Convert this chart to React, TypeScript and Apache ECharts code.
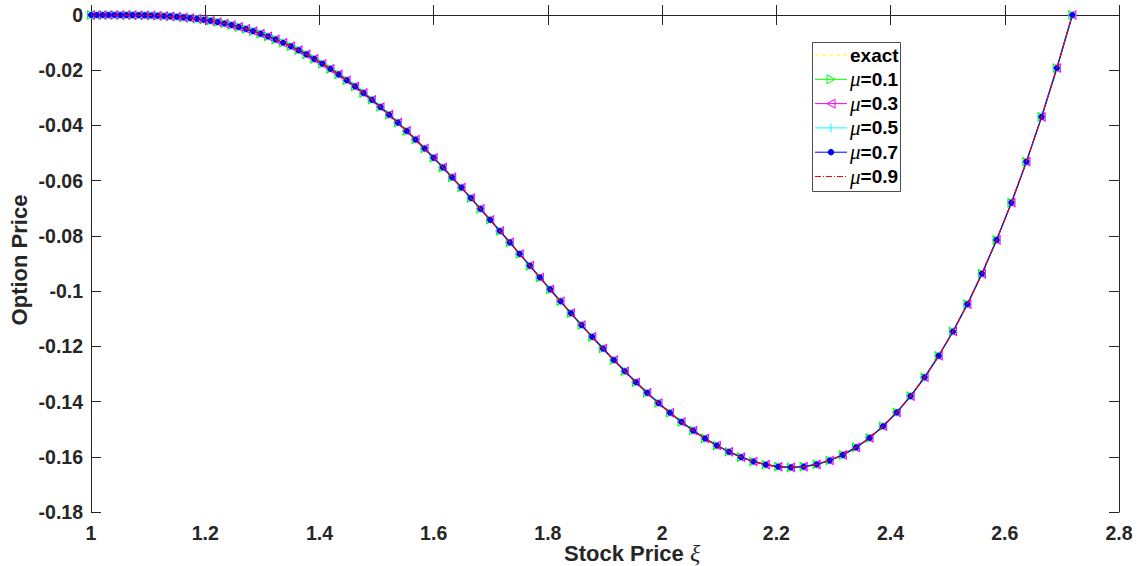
import React, { useEffect, useRef } from "react";
import * as echarts from "echarts";

// Stock price grid (x) and option price (y)
const stockPrice = [
  1.0, 1.0101, 1.0202, 1.0305, 1.0408, 1.0513, 1.0618, 1.0725, 1.0833, 1.0942,
  1.1052, 1.1163, 1.1275, 1.1388, 1.1503, 1.1618, 1.1735, 1.1853, 1.1972, 1.2092,
  1.2214, 1.2337, 1.2461, 1.2586, 1.2712, 1.284, 1.2969, 1.31, 1.3231, 1.3364,
  1.3499, 1.3634, 1.3771, 1.391, 1.4049, 1.4191, 1.4333, 1.4477, 1.4623, 1.477,
  1.4918, 1.5068, 1.522, 1.5373, 1.5527, 1.5683, 1.5841, 1.6, 1.6161, 1.6323,
  1.6487, 1.6653, 1.682, 1.6989, 1.716, 1.7333, 1.7507, 1.7683, 1.786, 1.804,
  1.8221, 1.8404, 1.8589, 1.8776, 1.8965, 1.9155, 1.9348, 1.9542, 1.9739, 1.9937,
  2.0138, 2.034, 2.0544, 2.0751, 2.0959, 2.117, 2.1383, 2.1598, 2.1815, 2.2034,
  2.2255, 2.2479, 2.2705, 2.2933, 2.3164, 2.3396, 2.3632, 2.3869, 2.4109, 2.4351,
  2.4596, 2.4843, 2.5093, 2.5345, 2.56, 2.5857, 2.6117, 2.6379, 2.6645, 2.6912,
  2.7183,
];

const exactPrice = [
  0, 0, -0.0000003, -0.0000016, -0.0000049, -0.0000119, -0.0000244, -0.0000447, -0.0000754, -0.0001194,
  -0.00018, -0.0002606, -0.000365, -0.000497, -0.0006608, -0.0008606, -0.001101, -0.0013864, -0.0017216, -0.0021112,
  -0.00256, -0.0030728, -0.0036544, -0.0043096, -0.005043, -0.0058594, -0.0067632, -0.007759, -0.008851, -0.0100434,
  -0.01134, -0.0127446, -0.0142606, -0.0158913, -0.0176396, -0.0195081, -0.0214991, -0.0236144, -0.0258557, -0.028224,
  -0.03072, -0.033344, -0.0360957, -0.0389743, -0.0419787, -0.0451069, -0.0483565, -0.0517246, -0.0552075, -0.058801,
  -0.0625, -0.066299, -0.0701915, -0.0741705, -0.0782281, -0.0823556, -0.0865436, -0.0907816, -0.0950586, -0.0993624,
  -0.10368, -0.1079976, -0.1122982, -0.1165719, -0.120796, -0.1249544, -0.1290282, -0.1329974, -0.1368408, -0.1405362,
  -0.14406, -0.1473877, -0.1504936, -0.1533505, -0.1559302, -0.1582031, -0.1601384, -0.161704, -0.1628662, -0.1635903,
  -0.16384, -0.1635775, -0.1627638, -0.1613583, -0.1593188, -0.1566019, -0.1531623, -0.1489534, -0.1439269, -0.1380329,
  -0.13122, -0.1234349, -0.1146229, -0.1047273, -0.0936899, -0.0814506, -0.0679477, -0.0531176, -0.0368947, -0.0192119,
  0,
];

// numerical solutions overlap the exact one at this scale
const mu01Price = exactPrice;
const mu03Price = exactPrice;
const mu05Price = exactPrice;
const mu07Price = exactPrice;
const mu09Price = exactPrice;

const seriesNames = ["exact", "μ=0.1", "μ=0.3", "μ=0.5", "μ=0.7", "μ=0.9"];
const xTicks = [1, 1.2, 1.4, 1.6, 1.8, 2, 2.2, 2.4, 2.6, 2.8];
const yTicks = [0, -0.02, -0.04, -0.06, -0.08, -0.1, -0.12, -0.14, -0.16, -0.18];

const AX = "#262626";
const SANS = "Liberation Sans";

export default function App() {
  const ref = useRef<HTMLDivElement>(null);

  useEffect(() => {
    document.body.style.margin = "0";
    if (!ref.current) return;
    const chart = echarts.init(ref.current, null, { renderer: "svg" });

    const toPairs = (ys: number[]) => stockPrice.map((x, i) => [x, ys[i]]);

    const axisCommon = {
      type: "value" as const,
      axisLine: { show: true, lineStyle: { color: AX, width: 1 } },
      axisTick: { show: true, inside: true, length: 10, lineStyle: { color: AX, width: 1 } },
      splitLine: { show: false },
    };

    const labelStyle = {
      color: AX,
      fontFamily: SANS,
      fontWeight: "bold" as const,
      fontSize: 19.5,
    };

    const fmt = (v: number) => String(parseFloat(v.toFixed(2)));

    // legend (drawn manually to mimic MATLAB)
    const legX = 812;
    const legY = 42;
    const rowY0 = 55;
    const rowStep = 24.3;
    const lineX0 = 815;
    const lineX1 = 847;
    const mx = 831;
    const legendColors = ["#ffff00", "#00ff00", "#ff00ff", "#00ffff", "#0000ff", "#ff0000"];
    const legendDash: any[] = [[4, 3], null, null, null, null, [6, 2, 1, 2]];
    const legendChildren: any[] = [
      {
        type: "rect",
        shape: { x: legX + 0.5, y: legY + 0.5, width: 88, height: 149 },
        style: { fill: "#ffffff", stroke: "#4d4d4d", lineWidth: 1 },
      },
    ];
    seriesNames.forEach((name, i) => {
      const y = rowY0 + i * rowStep;
      const c = legendColors[i];
      legendChildren.push({
        type: "line",
        shape: { x1: lineX0, y1: y, x2: lineX1, y2: y },
        style: { stroke: c, lineWidth: 1, lineDash: legendDash[i] || undefined },
      });
      if (i === 1) {
        legendChildren.push({
          type: "polygon",
          shape: { points: [[mx - 4, y - 4.5], [mx + 4, y], [mx - 4, y + 4.5]] },
          style: { fill: "none", stroke: c, lineWidth: 1 },
        });
      } else if (i === 2) {
        legendChildren.push({
          type: "polygon",
          shape: { points: [[mx + 4, y - 4.5], [mx - 4, y], [mx + 4, y + 4.5]] },
          style: { fill: "none", stroke: c, lineWidth: 1 },
        });
      } else if (i === 3) {
        legendChildren.push({
          type: "line",
          shape: { x1: mx, y1: y - 4.5, x2: mx, y2: y + 4.5 },
          style: { stroke: c, lineWidth: 1 },
        });
      } else if (i === 4) {
        legendChildren.push({
          type: "circle",
          shape: { cx: mx, cy: y, r: 2.8 },
          style: { fill: c, stroke: c },
        });
      }
      const parts = name.startsWith("μ") ? `{m|μ}{b|${name.slice(1)}}` : `{b|${name}}`;
      legendChildren.push({
        type: "text",
        x: 850,
        y: y,
        style: {
          text: parts,
          verticalAlign: "middle",
          align: "left",
          rich: {
            b: { fontFamily: SANS, fontWeight: "bold", fontSize: 19, fill: "#000" },
            m: { fontFamily: "Liberation Serif", fontStyle: "italic", fontSize: 21, fill: "#000" },
          },
        },
      });
    });

    const option: any = {
      animation: false,
      backgroundColor: "#ffffff",
      grid: {
        left: 91,
        right: 19,
        top: 15,
        bottom: 54,
        containLabel: false,
        outerBoundsMode: "none",
        show: false,
      },
      xAxis: [
        {
          ...axisCommon,
          position: "bottom",
          min: 1,
          max: 2.8,
          interval: 0.2,
          axisLabel: { ...labelStyle, margin: 11, formatter: fmt },
        },
        {
          ...axisCommon,
          position: "top",
          min: 1,
          max: 2.8,
          interval: 0.2,
          axisLabel: { show: false },
        },
      ],
      yAxis: [
        {
          ...axisCommon,
          position: "left",
          min: -0.18,
          max: 0,
          interval: 0.02,
          axisLabel: { ...labelStyle, margin: 8, formatter: fmt },
        },
        {
          ...axisCommon,
          position: "right",
          min: -0.18,
          max: 0,
          interval: 0.02,
          axisLabel: { show: false },
        },
      ],
      series: [
        {
          name: seriesNames[0],
          type: "line",
          data: toPairs(exactPrice),
          showSymbol: false,
          symbol: "none",
          lineStyle: { color: "#ffff00", width: 1, type: [4, 3] },
          silent: true,
          z: 2,
        },
        {
          name: seriesNames[1],
          type: "line",
          data: toPairs(mu01Price),
          symbol: "path://M0,0L10,5L0,10Z",
          symbolSize: [7, 8],
          itemStyle: { color: "rgba(0,0,0,0)", borderColor: "#00ff00", borderWidth: 1.2 },
          lineStyle: { color: "#00ff00", width: 1.2 },
          silent: true,
          z: 3,
        },
        {
          name: seriesNames[2],
          type: "line",
          data: toPairs(mu03Price),
          symbol: "path://M10,0L0,5L10,10Z",
          symbolSize: [7, 8],
          itemStyle: { color: "rgba(0,0,0,0)", borderColor: "#ff00ff", borderWidth: 1.2 },
          lineStyle: { color: "#ff00ff", width: 1.2 },
          silent: true,
          z: 4,
        },
        {
          name: seriesNames[3],
          type: "line",
          data: toPairs(mu05Price),
          symbol: "path://M0,5L10,5M5,0L5,10",
          symbolSize: 8,
          itemStyle: { color: "rgba(0,0,0,0)", borderColor: "#00ffff", borderWidth: 1.2 },
          lineStyle: { color: "#00ffff", width: 1.2 },
          silent: true,
          z: 5,
        },
        {
          name: seriesNames[4],
          type: "line",
          data: toPairs(mu07Price),
          symbol: "circle",
          symbolSize: 6,
          itemStyle: { color: "#0000ff", borderColor: "#0000ff", borderWidth: 0 },
          lineStyle: { color: "#0000ff", width: 1.2 },
          silent: true,
          z: 6,
        },
        {
          name: seriesNames[5],
          type: "line",
          data: toPairs(mu09Price),
          showSymbol: false,
          symbol: "none",
          lineStyle: { color: "#ff0000", width: 1.2, type: [6, 2, 1, 2] },
          silent: true,
          z: 7,
        },
      ],
      graphic: [
        {
          type: "text",
          x: 564,
          y: 553,
          silent: true,
          style: {
            text: "{b|Stock Price }{x|ξ}",
            verticalAlign: "middle",
            align: "left",
            rich: {
              b: { fontFamily: SANS, fontWeight: "bold", fontSize: 22, fill: AX },
              x: { fontFamily: "Liberation Serif", fontStyle: "italic", fontSize: 24, fill: AX },
            },
          },
        },
        {
          type: "text",
          x: 19,
          y: 260,
          rotation: Math.PI / 2,
          silent: true,
          style: {
            text: "Option Price",
            verticalAlign: "middle",
            align: "center",
            fontFamily: SANS,
            fontWeight: "bold",
            fontSize: 22,
            fill: AX,
          },
        },
        {
          type: "group",
          silent: true,
          children: legendChildren,
        },
      ],
    };

    chart.setOption(option);
    return () => chart.dispose();
  }, []);

  return <div ref={ref} style={{ width: 1138, height: 566 }} />;
}
